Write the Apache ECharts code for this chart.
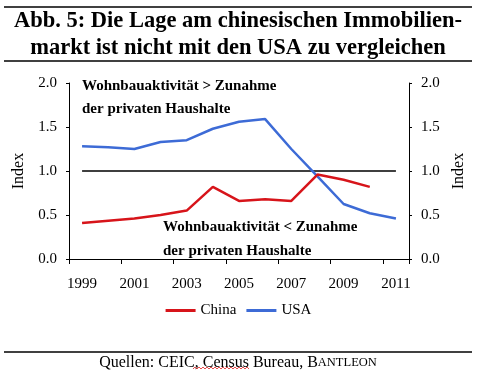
<!DOCTYPE html>
<html><head><meta charset="utf-8">
<script src="https://cdn.jsdelivr.net/npm/echarts@6/dist/echarts.min.js"></script>
<style>html,body{margin:0;padding:0;background:#fff}#c{width:477px;height:373px}</style>
</head><body><div id="c"></div>
<script>
const years = ['1999','2000','2001','2002','2003','2004','2005','2006','2007','2008','2009','2010','2011'];
const china = [0.41,0.435,0.46,0.50,0.55,0.82,0.66,0.68,0.66,0.96,0.90,0.82,null];
const usa = [1.28,1.27,1.25,1.33,1.35,1.48,1.56,1.59,1.25,0.94,0.625,0.52,0.46];
const refLine = [1,1,1,1,1,1,1,1,1,1,1,1,1];

const serif = '"Liberation Serif", "DejaVu Serif", serif';
const wave = [];
for (let i = 0; i <= 28; i++) wave.push([193 + i * 2, 368 + (i % 2 ? -1 : 1)]);
const chart = echarts.init(document.getElementById('c'));
chart.setOption({
  animation:false,
  grid:{left:69,right:68,top:83,bottom:114},
  legend:{
    data:['China','USA'], bottom:50, left:'center', icon:'rect', itemWidth:30, itemHeight:3, itemGap:10,
    textStyle:{fontFamily:serif,fontSize:15,color:'#000'}
  },
  xAxis:{
    type:'category', data:years, boundaryGap:true,
    axisLine:{lineStyle:{color:'#000',width:1}},
    axisTick:{show:true,interval:1,length:5,lineStyle:{color:'#000'}},
    axisLabel:{interval:1,color:'#000',fontFamily:serif,fontSize:15,margin:18}
  },
  yAxis:[
    {type:'value',min:0,max:2,interval:0.5,position:'left',
     name:'Index',nameLocation:'middle',nameGap:42,nameRotate:90,
     nameTextStyle:{fontFamily:serif,fontSize:16,color:'#000'},
     axisLine:{show:true,lineStyle:{color:'#000'}},axisTick:{show:true,length:3,lineStyle:{color:'#000'}},
     splitLine:{show:false},
     axisLabel:{color:'#000',fontFamily:serif,fontSize:15,margin:12,formatter:v=>v.toFixed(1)}},
    {type:'value',min:0,max:2,interval:0.5,position:'right',
     name:'Index',nameLocation:'middle',nameGap:42,nameRotate:90,
     nameTextStyle:{fontFamily:serif,fontSize:16,color:'#000'},
     axisLine:{show:true,lineStyle:{color:'#000'}},axisTick:{show:true,length:3,lineStyle:{color:'#000'}},
     splitLine:{show:false},
     axisLabel:{color:'#000',fontFamily:serif,fontSize:15,margin:12,formatter:v=>v.toFixed(1)}}
  ],
  series:[
    {name:'ref',type:'line',data:refLine,symbol:'none',lineStyle:{color:'#000',width:1.3},silent:true,z:1},
    {name:'China',type:'line',data:china,symbol:'none',lineStyle:{color:'#d7141a',width:2.5},itemStyle:{color:'#d7141a'},z:3},
    {name:'USA',type:'line',data:usa,symbol:'none',lineStyle:{color:'#3d6bd6',width:2.5},itemStyle:{color:'#3d6bd6'},z:2}
  ],
  graphic:[
    {type:'line',shape:{x1:4,y1:7,x2:472,y2:7},style:{stroke:'#000',lineWidth:1.5}},
    {type:'line',shape:{x1:4,y1:61,x2:472,y2:61},style:{stroke:'#000',lineWidth:1.5}},
    {type:'line',shape:{x1:4,y1:352,x2:472,y2:352},style:{stroke:'#000',lineWidth:1.5}},
    {type:'text',x:238,y:8,style:{text:'Abb. 5: Die Lage am chinesischen Immobilien-\nmarkt ist nicht mit den USA zu vergleichen',
      align:'center',verticalAlign:'top',fontFamily:serif,fontWeight:'bold',fontSize:22.5,lineHeight:27,fill:'#000'}},
    {type:'text',x:82,y:75,style:{text:'Wohnbauaktivität > Zunahme\nder privaten Haushalte',fontFamily:serif,fontWeight:'bold',fontSize:15,lineHeight:23,fill:'#000'}},
    {type:'text',x:163,y:215,style:{text:'Wohnbauaktivität < Zunahme\nder privaten Haushalte',fontFamily:serif,fontWeight:'bold',fontSize:15,lineHeight:24,fill:'#000'}},
    {type:'text',x:238,y:355,style:{
      text:'{a|Quellen: CEIC, Census Bureau, B}{b|ANTLEON}',align:'center',verticalAlign:'top',
      rich:{a:{fontFamily:serif,fontSize:16,fill:'#000'},b:{fontFamily:serif,fontSize:12.5,fill:'#000'}}
    }},
    {type:'polyline',shape:{points:wave},style:{stroke:'#e02020',lineWidth:0.8,fill:null}}
  ]
});
</script></body></html>
